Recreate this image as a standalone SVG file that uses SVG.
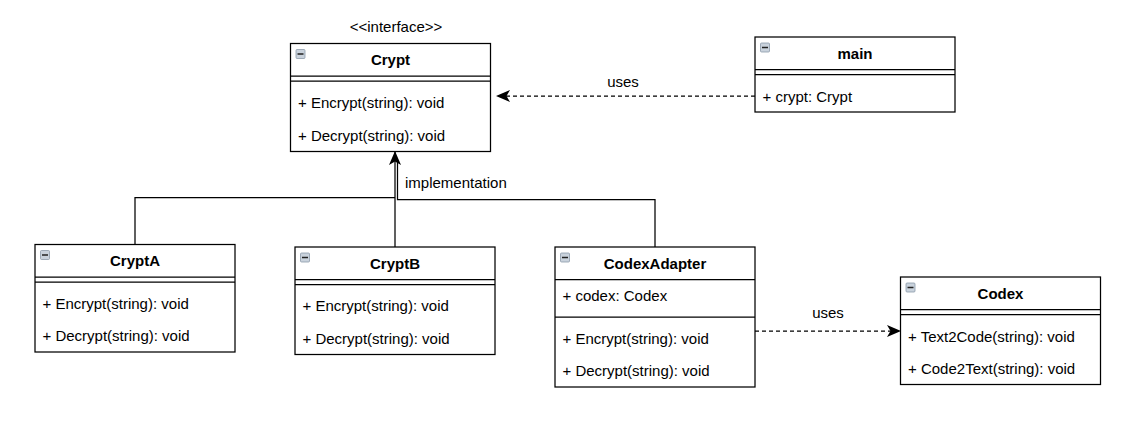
<svg xmlns="http://www.w3.org/2000/svg" width="1133" height="421" viewBox="0 0 1133 421">
<style>
.box{fill:#fff;stroke:#000;stroke-width:1.25}
.ln{fill:none;stroke:#000;stroke-width:1.25}
.t{font-family:"Liberation Sans",Arial,sans-serif;font-size:15px;fill:#000}
.h{font-family:"Liberation Sans",Arial,sans-serif;font-size:15px;font-weight:bold;fill:#000;text-anchor:middle}
.ico{fill:#c9d2dc;stroke:#8c99a8;stroke-width:0.8}
.icl{stroke:#222;stroke-width:1.5}
.c{fill:none;stroke:#000;stroke-width:1.25}
.d{stroke-dasharray:4 3}
</style>
<defs>
<marker id="arr" markerUnits="userSpaceOnUse" viewBox="0 0 14 12" markerWidth="14" markerHeight="12" refX="13" refY="6" orient="auto">
<path d="M0,0 L14,6 L0,12 L3.5,6 Z" fill="#000"/>
</marker>
<g id="icon"><rect class="ico" x="0" y="0" width="9" height="9" rx="1"/><line class="icl" x1="1.5" y1="4.5" x2="7.5" y2="4.5"/></g>
</defs>

<g id="connectors">
<path class="c d" d="M755,96 H497" marker-end="url(#arr)"/>
<path class="c d" d="M755,331 H900" marker-end="url(#arr)"/>
<path class="c" d="M395,247 V152" marker-end="url(#arr)"/>
<path class="c" d="M135,244.5 V197.5 H395"/>
<path class="c" d="M655,247 V199.5 H397.5 V162"/>
<text class="t" x="623" y="87" text-anchor="middle">uses</text>
<text class="t" x="828" y="318" text-anchor="middle">uses</text>
<text class="t" x="405" y="188">implementation</text>
</g>

<g id="crypt">
<text class="t" x="396" y="32" text-anchor="middle">&lt;&lt;interface&gt;&gt;</text>
<rect class="box" x="290.5" y="43.5" width="200" height="108"/>
<line class="ln" x1="290.5" y1="76" x2="490.5" y2="76"/>
<line class="ln" x1="290.5" y1="81" x2="490.5" y2="81"/>
<use href="#icon" x="296" y="49.5"/>
<text class="h" x="390.5" y="65">Crypt</text>
<text class="t" x="298" y="108">+ Encrypt(string): void</text>
<text class="t" x="298" y="140.5">+ Decrypt(string): void</text>
</g>

<g id="main">
<rect class="box" x="755" y="37" width="200" height="75"/>
<line class="ln" x1="755" y1="69.5" x2="955" y2="69.5"/>
<line class="ln" x1="755" y1="74.5" x2="955" y2="74.5"/>
<use href="#icon" x="760.5" y="43"/>
<text class="h" x="855" y="58.5">main</text>
<text class="t" x="762.5" y="101.5">+ crypt: Crypt</text>
</g>

<g id="cryptA">
<rect class="box" x="35" y="244.5" width="200" height="107.5"/>
<line class="ln" x1="35" y1="277" x2="235" y2="277"/>
<line class="ln" x1="35" y1="282" x2="235" y2="282"/>
<use href="#icon" x="40.5" y="250.5"/>
<text class="h" x="135" y="266">CryptA</text>
<text class="t" x="42.5" y="308.5">+ Encrypt(string): void</text>
<text class="t" x="42.5" y="341">+ Decrypt(string): void</text>
</g>

<g id="cryptB">
<rect class="box" x="295" y="247" width="200" height="107.5"/>
<line class="ln" x1="295" y1="279.5" x2="495" y2="279.5"/>
<line class="ln" x1="295" y1="284.5" x2="495" y2="284.5"/>
<use href="#icon" x="300.5" y="253"/>
<text class="h" x="395" y="268.5">CryptB</text>
<text class="t" x="302.5" y="311">+ Encrypt(string): void</text>
<text class="t" x="302.5" y="343.5">+ Decrypt(string): void</text>
</g>

<g id="codexAdapter">
<rect class="box" x="555" y="247" width="200" height="140"/>
<line class="ln" x1="555" y1="279.5" x2="755" y2="279.5"/>
<line class="ln" x1="555" y1="317" x2="755" y2="317"/>
<use href="#icon" x="560.5" y="253"/>
<text class="h" x="655" y="268.5">CodexAdapter</text>
<text class="t" x="562.5" y="301">+ codex: Codex</text>
<text class="t" x="562.5" y="343.5">+ Encrypt(string): void</text>
<text class="t" x="562.5" y="376">+ Decrypt(string): void</text>
</g>

<g id="codex">
<rect class="box" x="900.5" y="277" width="200" height="107.5"/>
<line class="ln" x1="900.5" y1="309.5" x2="1100.5" y2="309.5"/>
<line class="ln" x1="900.5" y1="314.5" x2="1100.5" y2="314.5"/>
<use href="#icon" x="906" y="283"/>
<text class="h" x="1000.5" y="298.5">Codex</text>
<text class="t" x="908" y="341.5">+ Text2Code(string): void</text>
<text class="t" x="908" y="373.5">+ Code2Text(string): void</text>
</g>
</svg>
